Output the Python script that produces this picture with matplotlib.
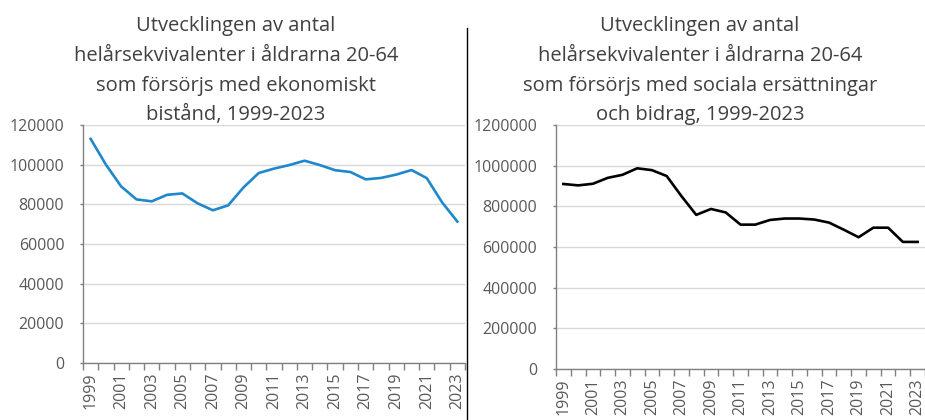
import matplotlib
matplotlib.use("Agg")
import matplotlib.pyplot as plt
from matplotlib.lines import Line2D

plt.rcParams["font.family"] = ["Open Sans", "DejaVu Sans"]

TXT   = "#595959"
GRID  = "#d9d9d9"
BLUE  = "#1f88cc"

years = list(range(1999, 2024))

# ekonomiskt bistånd (helårsekvivalenter)
bistand = [113000, 100000, 89000, 82500, 81500, 84800, 85500, 80500, 77000, 79500,
           88500, 95800, 98000, 99800, 102000, 99800, 97200, 96300, 92600, 93300,
           95000, 97300, 93200, 81000, 71300]

# sociala ersättningar och bidrag
ersattning = [910000, 903000, 911000, 940000, 955000, 987000, 978000, 949000, 850000, 758000,
              787000, 770000, 710000, 710000, 733000, 740000, 740000, 735000, 720000, 685000,
              648000, 695000, 695000, 625000, 625000]

titles = [
    "Utvecklingen av antal\nhelårsekvivalenter i åldrarna 20-64\nsom försörjs med ekonomiskt\nbistånd, 1999-2023",
    "Utvecklingen av antal\nhelårsekvivalenter i åldrarna 20-64\nsom försörjs med sociala ersättningar\noch bidrag, 1999-2023",
]

W, H = 925, 420
fig = plt.figure(figsize=(W / 100, H / 100), dpi=100)
fig.patch.set_facecolor("white")


def px(x0, y0, x1, y1):
    # pixel box (top-left origin) -> figure fraction rect
    return [x0 / W, 1 - y1 / H, (x1 - x0) / W, (y1 - y0) / H]


def panel(rect, vals, color, ymax, step):
    ax = fig.add_axes(rect)
    x = list(range(len(years)))
    ax.plot(x, vals, color=color, lw=1.9, solid_joinstyle="round", zorder=3)
    ax.set_xlim(-0.5, len(years) - 0.5)
    ax.set_ylim(0, ymax)
    ax.set_yticks(range(0, ymax + 1, step))
    ax.set_yticklabels([str(v) for v in range(0, ymax + 1, step)])
    ax.set_xticks(x[::2])
    ax.set_xticklabels([str(y) for y in years[::2]], rotation=90)
    ax.set_xticks([i - 0.5 for i in range(len(years) + 1)], minor=True)
    ax.tick_params(axis="x", which="major", length=0, pad=7, labelsize=11.5, labelcolor=TXT)
    ax.tick_params(axis="x", which="minor", length=5, width=1, color="#808080", direction="out")
    ax.tick_params(axis="y", length=2, width=1, color="#808080", pad=11.5,
                   labelsize=11.5, labelcolor=TXT)
    ax.grid(axis="y", color=GRID, lw=1)
    ax.set_axisbelow(True)
    for s in ["top", "right"]:
        ax.spines[s].set_visible(False)
    for s in ["left", "bottom"]:
        ax.spines[s].set_color("#808080")
        ax.spines[s].set_linewidth(1)
    return ax


panel(px(83, 125, 465, 363), bistand, BLUE, 120000, 20000)
panel(px(556, 125, 925, 369), ersattning, "black", 1200000, 200000)

fig.text(236 / W, 1 - 16 / H, titles[0], ha="center", va="top", fontsize=14.5,
         color="#404040", linespacing=1.65)
fig.text(700 / W, 1 - 16 / H, titles[1], ha="center", va="top", fontsize=14.5,
         color="#404040", linespacing=1.65)

fig.add_artist(Line2D([467 / W, 467 / W], [0, 1 - 28 / H], color="black", lw=1))

fig.savefig("out.png", dpi=100, facecolor="white")
